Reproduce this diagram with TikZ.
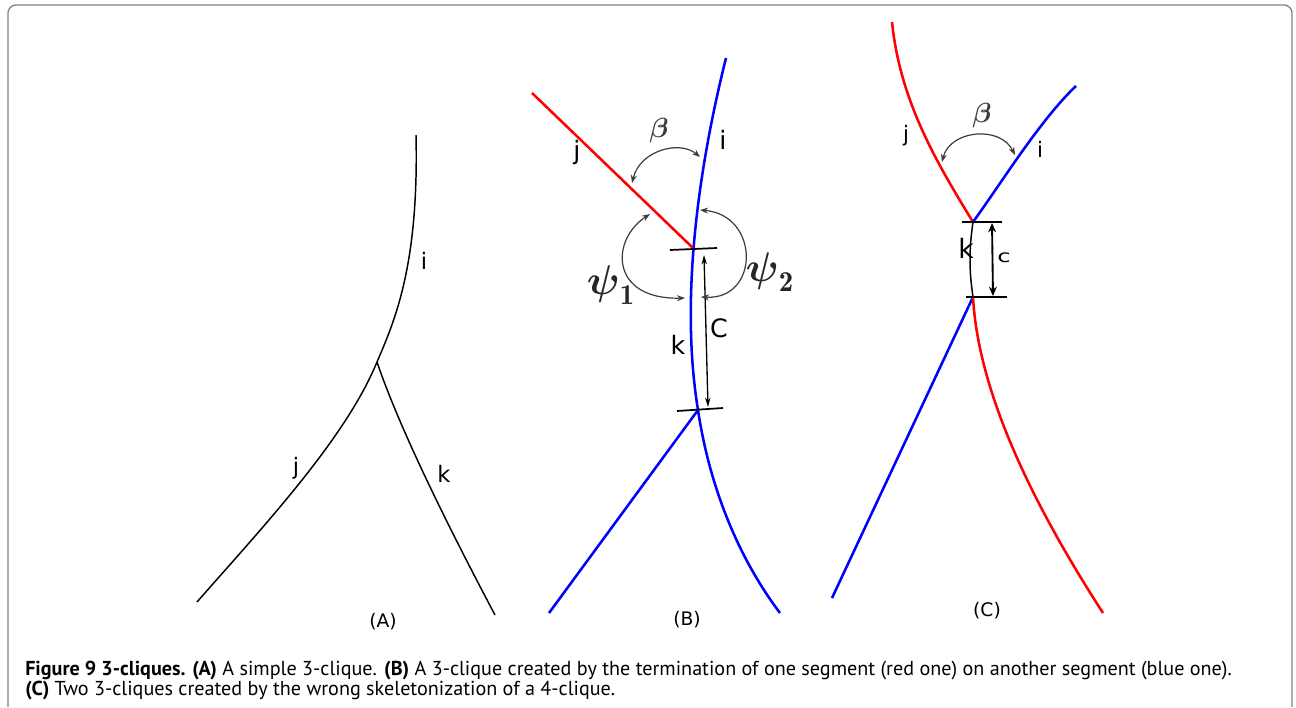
\documentclass[tikz,border=0pt]{standalone}
\usepackage{amsmath}
\usepackage{fontspec}
\usetikzlibrary{arrows.meta}
\newfontfamily\labfont{DejaVu Sans}
\newfontfamily\capfont{PT Sans}
\definecolor{segred}{RGB}{255,0,0}
\definecolor{segblue}{RGB}{0,0,255}
\definecolor{arcgray}{RGB}{60,60,60}
\definecolor{framegray}{RGB}{130,130,130}
\definecolor{captext}{RGB}{35,31,32}
\newsavebox\capboxA
\newsavebox\capboxB
\begin{document}
\sbox\capboxA{\capfont\fontsize{13.5}{16}\selectfont\textbf{Figure 9 3-cliques. (A)} A simple 3-clique. \textbf{(B)} A 3-clique created by the termination of one segment (red one) on another segment (blue one).}
\sbox\capboxB{\capfont\fontsize{13.5}{16}\selectfont\textbf{(C)} Two 3-cliques created by the wrong skeletonization of a 4-clique.}
\begin{tikzpicture}[x=0.75pt,y=-0.75pt,
  seg/.style={line width=1.1pt, black},
  redseg/.style={line width=1.9pt, segred},
  blueseg/.style={line width=1.9pt, segblue},
  tickline/.style={line width=1.3pt, black},
  anglearc/.style={line width=0.9pt, arcgray,
    {Stealth[length=6pt,width=4.5pt,inset=2pt]}-{Stealth[length=6pt,width=4.5pt,inset=2pt]}},
  dimB/.style={line width=1pt, black,
    {Stealth[length=7pt,width=4pt,inset=2pt]}-{Stealth[length=7pt,width=4pt,inset=2pt]}},
  dimC/.style={line width=1.4pt, black,
    {Stealth[length=7pt,width=6pt]}-{Stealth[length=7pt,width=6pt]}},
  lblA/.style={font={\labfont\fontsize{17}{20}\selectfont}, inner sep=0pt},
  lblB/.style={font={\labfont\fontsize{19}{22}\selectfont}, inner sep=0pt},
  lblC/.style={font={\labfont\fontsize{16}{19}\selectfont}, inner sep=0pt},
  panel/.style={font={\labfont\fontsize{14}{16}\selectfont}, inner sep=0pt},
  greek/.style={font=\fontsize{20.74}{22}\selectfont, text=arcgray, inner sep=0pt},
  psilbl/.style={font=\fontsize{20.74}{22}\selectfont, text=black!85, inner sep=0pt, scale=1.5},
  capnode/.style={text=captext, inner sep=0pt, anchor=base west}
]
\useasboundingbox (0,0) rectangle (1296,707);
\pgfmathsetmacro\capscale{905/\wd\capboxA}
% frame
\draw[framegray, line width=1pt, rounded corners=6pt] (8,707) -- (8,5) -- (1292,5) -- (1292,707);

% ---------- Panel A ----------
\coordinate (Atop) at (416,135);
\coordinate (Ajn) at (377,362);
\coordinate (Ajend) at (197,602);
\coordinate (Akend) at (495,615);
\draw[seg] (Atop) .. controls (419,265) and (395,320) .. (Ajn) .. controls (345,440) and (260,530) .. (Ajend);
\draw[seg] (Ajn) .. controls (400,430) and (450,530) .. (Akend);
\node[lblA] (Ai) at (424,261) {i};
\node[lblA] (Aj) at (296,468) {j};
\node[lblA] (Ak) at (444,474) {k};
\node[panel] (Alab) at (383,622) {(A)};

% ---------- Panel B ----------
\coordinate (Bjs) at (532,93);
\coordinate (Bt) at (693,248);
\coordinate (Bb) at (698,410);
\coordinate (Bitop) at (726,58);
\coordinate (Biend) at (780,613);
\coordinate (Blend) at (549,613);
\draw[blueseg] (Bitop) .. controls (698,170) and (680,300) .. (Bb) .. controls (710,490) and (740,560) .. (Biend);
\draw[blueseg] (Bb) -- (Blend);
\draw[redseg] (Bjs) -- (Bt);
\coordinate (BtL) at (670,250);
\coordinate (BtR) at (717,248);
\coordinate (BbL) at (677,411);
\coordinate (BbR) at (723,408);
\draw[tickline] (BtL) -- (BtR);
\draw[tickline] (BbL) -- (BbR);
\coordinate (BdA) at (704,255);
\coordinate (BdB) at (708,407);
\draw[dimB] (BdA) -- (BdB);
% angle arcs
\coordinate (Bbeta1) at (632,183);
\coordinate (Bbeta2) at (700,157);
\draw[anglearc] (Bbeta1) .. controls (640,150) and (680,140) .. (Bbeta2);
\coordinate (Bpsa1) at (650,214);
\coordinate (Bpsa2) at (685,298);
\draw[anglearc] (Bpsa1) .. controls (610,240) and (610,300) .. (Bpsa2);
\coordinate (Bpsb1) at (700,210);
\coordinate (Bpsb2) at (701,297);
\draw[anglearc] (Bpsb1) .. controls (760,215) and (760,300) .. (Bpsb2);
\node[lblB] (Bj) at (577,153) {j};
\node[lblB] (Bi) at (723,140) {i};
\node[lblB] (Bk) at (678,345) {k};
\node[lblB] (Bc) at (719,328) {C};
\node[greek] (Bbeta) at (659,131) {$\boldsymbol{\beta}$};
\node[psilbl] (Bpsi1) at (611,285) {$\boldsymbol{\psi}_{\mathbf{1}}$};
\node[psilbl] (Bpsi2) at (770,272) {$\boldsymbol{\psi}_{\mathbf{2}}$};
\node[panel] (Blab) at (687,620) {(B)};

% ---------- Panel C ----------
\coordinate (Cjtop) at (892,22);
\coordinate (Ct) at (973,222);
\coordinate (Cb) at (973,297);
\coordinate (Citop) at (1076,86);
\coordinate (Clb) at (832,598);
\coordinate (Crb) at (1103,613);
\draw[redseg] (Cjtop) .. controls (900,100) and (935,160) .. (Ct);
\draw[blueseg] (Ct) .. controls (1000,185) and (1040,120) .. (Citop);
\draw[line width=1.1pt, black] (Ct) .. controls (969,250) and (969,270) .. (Cb);
\draw[blueseg] (Cb) -- (Clb);
\draw[redseg] (Cb) .. controls (978,390) and (1030,500) .. (Crb);
\coordinate (CtL) at (962,222);
\coordinate (CtR) at (1002,222);
\coordinate (CbL) at (966,297);
\coordinate (CbR) at (1007,297);
\draw[tickline] (CtL) -- (CtR);
\draw[tickline] (CbL) -- (CbR);
\coordinate (CdA) at (992,223);
\coordinate (CdB) at (993,296);
\draw[dimC] (CdA) -- (CdB);
\coordinate (Cbeta1) at (942,162);
\coordinate (Cbeta2) at (1015,155);
\draw[anglearc] (Cbeta1) .. controls (950,130) and (1000,125) .. (Cbeta2);
\node[lblC] (Cj) at (906,136) {j};
\node[lblC] (Ci) at (1040,149) {i};
\node[lblC, font={\labfont\fontsize{20}{22}\selectfont}] (Ck) at (966,248) {k};
\node[lblC, font={\labfont\fontsize{13}{15}\selectfont}, xscale=1.4] (Cc) at (1004,258) {c};
\node[greek] (Cbeta) at (982,116) {$\boldsymbol{\beta}$};
\node[panel] (Clab) at (987,611) {(C)};

% ---------- Caption ----------
\node[capnode] (cap1) at (25,675) {\scalebox{\capscale}{\usebox\capboxA}};
\node[capnode] (cap2) at (25,695) {\scalebox{\capscale}{\usebox\capboxB}};
\end{tikzpicture}
\end{document}
